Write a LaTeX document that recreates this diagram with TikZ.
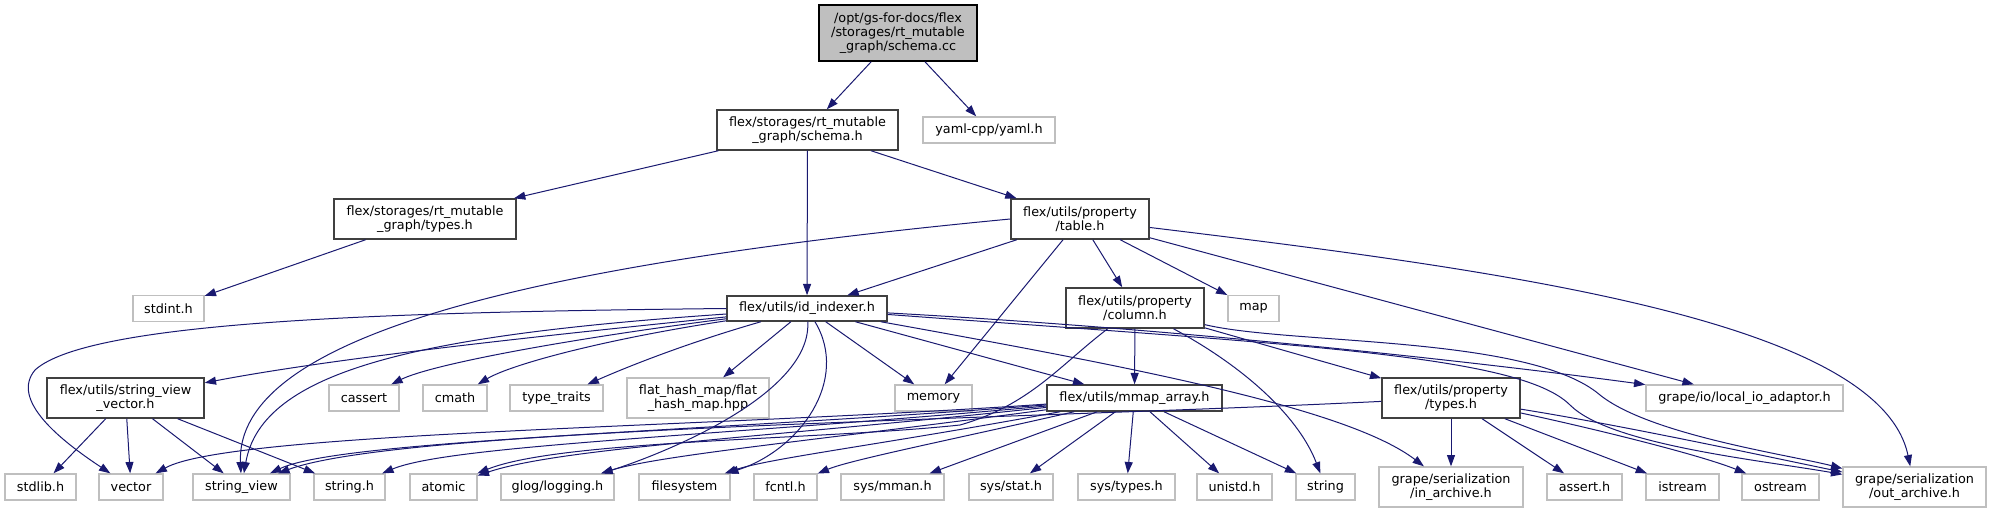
\documentclass[tikz,border=0pt]{standalone}
\usepackage{fontspec}
\setmainfont{DejaVu Sans}
\usepackage{tikz}
\usetikzlibrary{arrows.meta}
\definecolor{edgeblue}{HTML}{191970}
\definecolor{rootfill}{HTML}{BFBFBF}
\definecolor{extgray}{HTML}{BFBFBF}
\definecolor{docgray}{HTML}{404040}
\tikzset{
  file/.style    = {rectangle, inner sep=1pt, align=center,
                    font=\fontsize{9.6}{10.7}\selectfont},
  hdr/.style     = {file, draw=docgray, line width=1.1pt, fill=white},
  root/.style    = {file, draw=black, line width=1.1pt, fill=rootfill},
  sysfile/.style = {file, draw=extgray, line width=1pt, fill=white},
  sz/.style 2 args = {minimum width=#1*0.75pt, minimum height=#2*0.75pt},
  dep/.style     = {-{Triangle[length=8.5pt,width=6pt]}, draw=edgeblue, line width=0.75pt},
}
\begin{document}
\begin{tikzpicture}[x=0.75pt, y=-0.75pt]
  \useasboundingbox (0,0) rectangle (1991,513);

  \node[root, sz={158}{56}] (cc) at (898,33)
       {/opt/gs-for-docs/flex\\/storages/rt\_mutable\\\_graph/schema.cc};
  \node[hdr, sz={181}{40}] (sch) at (807.5,130) {flex/storages/rt\_mutable\\\_graph/schema.h};
  \node[sysfile, sz={132}{26}] (yaml) at (989,130) {yaml-cpp/yaml.h};
  \node[hdr, sz={182}{40}] (rtty) at (425,219) {flex/storages/rt\_mutable\\\_graph/types.h};
  \node[hdr, sz={138}{40}] (tab) at (1080,219) {flex/utils/property\\/table.h};

  \node[sysfile, sz={71}{26}] (stdint) at (168.5,308.5) {stdint.h};
  \node[hdr, sz={160}{25}] (idx) at (807,308.5) {flex/utils/id\_indexer.h};
  \node[hdr, sz={138}{40}] (col) at (1135,308) {flex/utils/property\\/column.h};
  \node[sysfile, sz={51}{26}] (map) at (1253.5,308.5) {map};

  \node[hdr, sz={157}{40}] (svv) at (125.5,398) {flex/utils/string\_view\\\_vector.h};
  \node[sysfile, sz={70}{26}] (cassert) at (364,398) {cassert};
  \node[sysfile, sz={64}{26}] (cmath) at (455,398) {cmath};
  \node[sysfile, sz={93}{26}] (ttraits) at (556.5,398) {type\_traits};
  \node[sysfile, sz={142}{40}] (fhm) at (698,398) {flat\_hash\_map/flat\\\_hash\_map.hpp};
  \node[sysfile, sz={77}{26}] (mem) at (933.5,398) {memory};
  \node[hdr, sz={175}{26}] (mma) at (1134.5,398) {flex/utils/mmap\_array.h};
  \node[hdr, sz={138}{40}] (ptypes) at (1451,398) {flex/utils/property\\/types.h};
  \node[sysfile, sz={197}{26}] (lio) at (1744.5,398) {grape/io/local\_io\_adaptor.h};

  \node[sysfile, sz={71}{26}] (stdlib) at (40.5,487) {stdlib.h};
  \node[sysfile, sz={64}{26}] (vec) at (131,487) {vector};
  \node[sysfile, sz={97}{26}] (sview) at (241.5,487) {string\_view};
  \node[sysfile, sz={71}{26}] (strh) at (349.5,487) {string.h};
  \node[sysfile, sz={67}{26}] (atomic) at (443.5,487) {atomic};
  \node[sysfile, sz={113}{26}] (glog) at (557.5,487) {glog/logging.h};
  \node[sysfile, sz={91}{26}] (fsys) at (684.5,487) {filesystem};
  \node[sysfile, sz={63}{26}] (fcntl) at (785.5,487) {fcntl.h};
  \node[sysfile, sz={103}{26}] (mman) at (892.5,487) {sys/mman.h};
  \node[sysfile, sz={84}{26}] (sstat) at (1011,487) {sys/stat.h};
  \node[sysfile, sz={97}{26}] (stypes) at (1126.5,487) {sys/types.h};
  \node[sysfile, sz={75}{26}] (unistd) at (1234.5,487) {unistd.h};
  \node[sysfile, sz={59}{26}] (string) at (1325.5,487) {string};
  \node[sysfile, sz={144}{40}] (inarch) at (1451,487) {grape/serialization\\/in\_archive.h};
  \node[sysfile, sz={75}{26}] (assert) at (1584.5,487) {assert.h};
  \node[sysfile, sz={73}{26}] (istream) at (1682.5,487) {istream};
  \node[sysfile, sz={77}{26}] (ostream) at (1780.5,487) {ostream};
  \node[sysfile, sz={143}{40}] (outarch) at (1914.5,487) {grape/serialization\\/out\_archive.h};

  \draw[dep] (cc) -- (sch);
  \draw[dep] (cc) -- (yaml);
  \draw[dep] (sch) -- (rtty);
  \draw[dep] (sch) -- (idx);
  \draw[dep] (sch) -- (tab);
  \draw[dep] (rtty) -- (stdint);

  \draw[dep] (tab) -- (idx);
  \draw[dep] (tab) -- (mem);
  \draw[dep] (tab) -- (col);
  \draw[dep] (tab) -- (map);
  \draw[dep] (tab) -- (lio);
  \draw[dep] (tab.west) .. controls (560,262) and (235,330) .. (sview);
  \draw[dep] (tab) .. controls (1500,270) and (1880,320) .. (outarch);

  \draw[dep] (idx.west) .. controls (400,312) and (90,320) .. (35,370)
             .. controls (10,400) and (60,440) .. (vec);
  \draw[dep] (idx) .. controls (600,330) and (350,355) .. (svv);
  \draw[dep] (idx) .. controls (420,335) and (262,370) .. (sview);
  \draw[dep] (idx) .. controls (560,340) and (430,365) .. (cassert);
  \draw[dep] (idx) .. controls (600,340) and (510,365) .. (cmath);
  \draw[dep] (idx) .. controls (680,345) and (620,370) .. (ttraits);
  \draw[dep] (idx) -- (fhm);
  \draw[dep] (idx) -- (mem);
  \draw[dep] (idx) -- (mma);
  \draw[dep] (idx) .. controls (812,395) and (660,455) .. (glog);
  \draw[dep] (idx) .. controls (850,380) and (800,450) .. (fsys);
  \draw[dep] (idx) .. controls (1150,370) and (1350,410) .. (inarch);
  \draw[dep] (idx) .. controls (1200,330) and (1500,365) .. (lio);
  \draw[dep] (idx) .. controls (1300,345) and (1520,355) .. (1570,405)
             .. controls (1610,445) and (1760,460) .. (outarch);

  \draw[dep] (col) -- (mma);
  \draw[dep] (col) -- (ptypes);
  \draw[dep] (col) .. controls (1250,370) and (1300,420) .. (string);
  \draw[dep] (col) .. controls (1290,345) and (1530,335) .. (1600,395)
             .. controls (1650,435) and (1790,455) .. (outarch);
  \draw[dep] (col) .. controls (1060,365) and (1030,405) .. (960,425)
             .. controls (820,440) and (560,440) .. (atomic);

  \draw[dep] (svv) -- (stdlib);
  \draw[dep] (svv) -- (vec);
  \draw[dep] (svv) -- (sview);
  \draw[dep] (svv) -- (strh);

  \draw[dep] (mma) .. controls (700,428) and (230,432) .. (vec);
  \draw[dep] (mma) .. controls (700,432) and (340,440) .. (sview);
  \draw[dep] (mma) .. controls (720,436) and (450,445) .. (strh);
  \draw[dep] (mma) .. controls (760,438) and (560,448) .. (atomic);
  \draw[dep] (mma) .. controls (820,440) and (660,455) .. (glog);
  \draw[dep] (mma) .. controls (880,445) and (770,458) .. (fsys);
  \draw[dep] (mma) .. controls (950,440) and (850,460) .. (fcntl);
  \draw[dep] (mma) -- (mman);
  \draw[dep] (mma) -- (sstat);
  \draw[dep] (mma) -- (stypes);
  \draw[dep] (mma) -- (unistd);
  \draw[dep] (mma) -- (string);

  \draw[dep] (ptypes) .. controls (1000,420) and (400,428) .. (sview);
  \draw[dep] (ptypes) -- (inarch);
  \draw[dep] (ptypes) -- (assert);
  \draw[dep] (ptypes) -- (istream);
  \draw[dep] (ptypes) .. controls (1600,430) and (1700,455) .. (ostream);
  \draw[dep] (ptypes) .. controls (1620,425) and (1760,455) .. (outarch);

\end{tikzpicture}
\end{document}
